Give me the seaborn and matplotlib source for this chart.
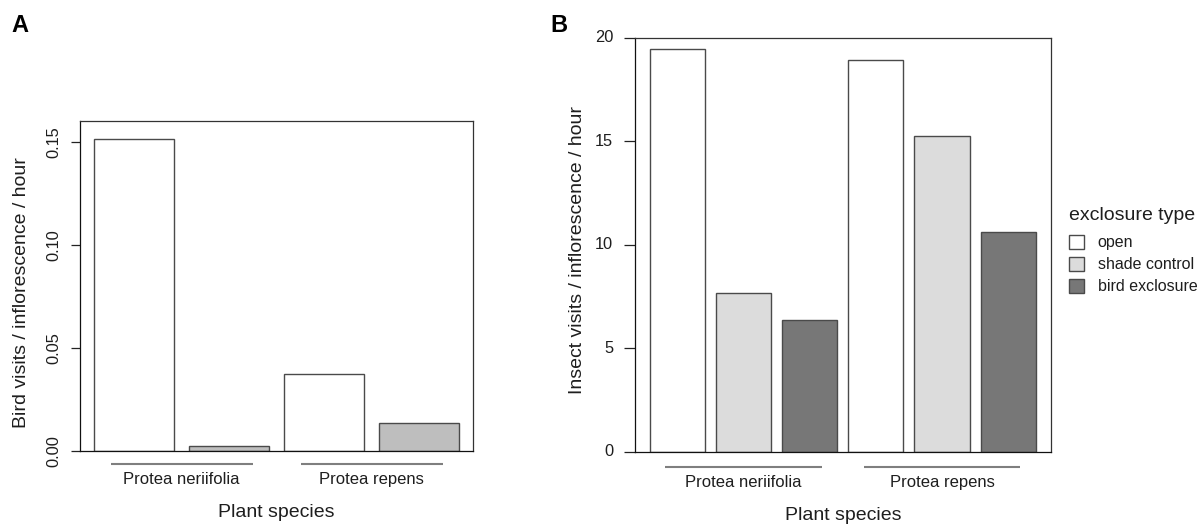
import numpy as np
import pandas as pd
import matplotlib
matplotlib.use("Agg")
import matplotlib.pyplot as plt
import matplotlib.transforms as mtransforms
import seaborn as sns

# ---------------- data ----------------
species = ["Protea neriifolia", "Protea repens"]
exclosure_types = ["open", "shade control", "bird exclosure"]

bird_open = [0.1512, 0.0373]
bird_exclosure = [0.0023, 0.0137]

insect_open = [19.49, 18.96]
insect_shade = [7.69, 15.25]
insect_bird = [6.35, 10.61]

bird_ticks = [0.00, 0.05, 0.10, 0.15]
insect_ticks = [0, 5, 10, 15, 20]

# ---------------- style ----------------
sns.set_theme(style="white")
plt.rcParams["font.family"] = ["Liberation Sans", "DejaVu Sans"]
TXT = "#1e1e1e"
plt.rcParams["text.color"] = TXT
plt.rcParams["axes.labelcolor"] = TXT
plt.rcParams["xtick.color"] = TXT
plt.rcParams["ytick.color"] = TXT

df_bird = pd.DataFrame({
    "species": species * 2,
    "type": ["open"] * 2 + ["bird exclosure"] * 2,
    "value": bird_open + bird_exclosure,
})
df_insect = pd.DataFrame({
    "species": species * 3,
    "type": ["open"] * 2 + ["shade control"] * 2 + ["bird exclosure"] * 2,
    "value": insect_open + insect_shade + insect_bird,
})

pal_bird = {"open": "#ffffff", "bird exclosure": "#bebebe"}
pal_insect = {"open": "#ffffff", "shade control": "#dcdcdc", "bird exclosure": "#777777"}

W, H = 1201, 526
fig = plt.figure(figsize=(W / 100, H / 100), dpi=100)
axA = fig.add_axes([80 / W, (H - 451) / H, 393.3 / W, 330.3 / H])
axB = fig.add_axes([634.7 / W, (H - 451.7) / H, 416.3 / W, 413.7 / H])

EDGE = "#4a4a4a"

sns.barplot(data=df_bird, x="species", y="value", hue="type",
            hue_order=["open", "bird exclosure"], order=species,
            palette=pal_bird, width=1.0, gap=0.16, errorbar=None,
            edgecolor=EDGE, linewidth=1.0, legend=False, ax=axA)

sns.barplot(data=df_insect, x="species", y="value", hue="type",
            hue_order=exclosure_types, order=species,
            palette=pal_insect, width=1.0, gap=0.166, errorbar=None,
            edgecolor=EDGE, linewidth=1.0, ax=axB)

def style_axis(ax, xlim, ylim, ticks, ticklabels, rot, tlen, tpad,
               xpad, line_half, line_y, xlab_y, ylab, ylab_xy):
    ax.set_xlim(*xlim)
    ax.set_ylim(*ylim)
    ax.set_yticks(ticks)
    ax.set_yticklabels(ticklabels, rotation=rot, va="center", fontsize=11.8)
    ax.tick_params(axis="y", which="major", length=tlen, width=0.9,
                   pad=tpad, left=True, color="#222222")
    ax.tick_params(axis="x", length=0, pad=xpad, labelsize=12)
    for s in ax.spines.values():
        s.set_visible(True)
        s.set_color("#333333")
        s.set_linewidth(0.9)
    ax.spines["left"].set_color("#111111")
    ax.spines["bottom"].set_color("#111111")
    ax.grid(False)
    ax.set_facecolor("white")
    # group underline below the category axis
    trans = mtransforms.blended_transform_factory(ax.transData, ax.transAxes)
    for i, _ in enumerate(species):
        ax.plot([i - line_half, i + line_half], [line_y, line_y],
                color="#7f7f7f", lw=1.5, transform=trans, clip_on=False,
                solid_capstyle="butt")
    ax.set_xlabel("Plant species", fontsize=14)
    ax.xaxis.set_label_coords(0.5, xlab_y)
    ax.set_ylabel(ylab, fontsize=14)
    ax.yaxis.set_label_coords(*ylab_xy)

style_axis(axA, (-0.535, 1.535), (0, 0.1602), bird_ticks,
           [f"{t:.2f}" for t in bird_ticks], 90, 6.7, 7.0,
           15.0, 0.373, -0.0384, -0.160,
           "Bird visits / inflorescence / hour", (-0.126, 0.480))

style_axis(axB, (-0.547, 1.549), (0, 20), insect_ticks,
           [str(t) for t in insect_ticks], 0, 8.2, 7.4,
           16.5, 0.394, -0.0363, -0.134,
           "Insect visits / inflorescence / hour", (-0.1158, 0.4868))

sns.move_legend(axB, "upper left", bbox_to_anchor=(1069 / W, 1 - 207 / H),
                bbox_transform=fig.transFigure, frameon=False,
                title="exclosure type", fontsize=11.5, title_fontsize=14,
                alignment="left", borderpad=0, borderaxespad=0,
                handlelength=0.95, handleheight=0.95, handletextpad=0.85,
                labelspacing=0.41)
leg = axB.get_legend()
try:
    leg._legend_box.sep = 8.0
except Exception:
    pass

fig.text(11 / W, 1 - 32.5 / H, "A", fontsize=17, fontweight="bold",
         ha="left", va="baseline", color="black")
fig.text(550 / W, 1 - 32.5 / H, "B", fontsize=17, fontweight="bold",
         ha="left", va="baseline", color="black")

fig.savefig("out.png", dpi=100, facecolor="white")
